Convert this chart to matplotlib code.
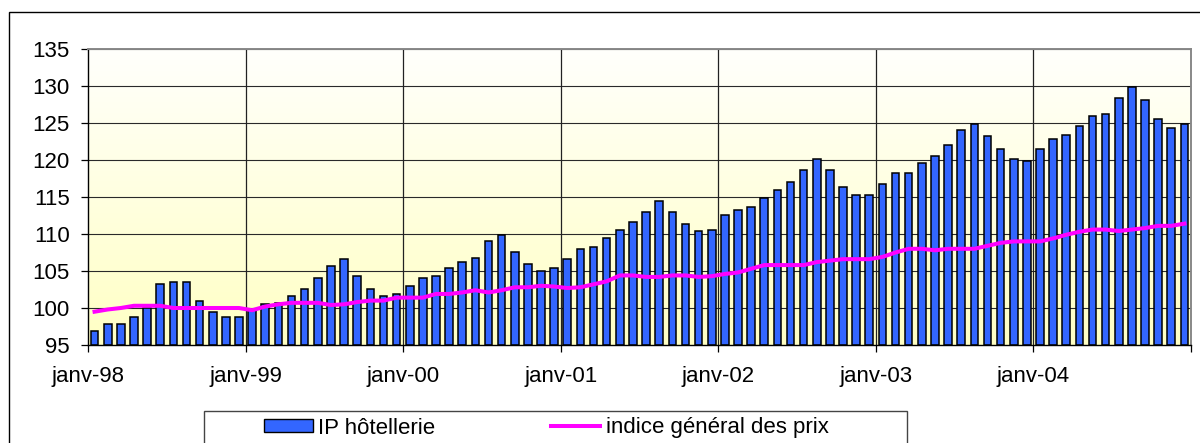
import matplotlib
matplotlib.use("Agg")
import matplotlib.pyplot as plt
import numpy as np
from matplotlib.patches import Rectangle, Patch
from matplotlib.lines import Line2D

plt.rcParams['font.family'] = ['Liberation Sans', 'DejaVu Sans']

# monthly values, janv-98 .. dec-04
hotel = [96.9, 97.8, 97.8, 98.8, 100.0, 103.3, 103.5, 103.5, 100.9, 99.5, 98.8, 98.8,
         99.7, 100.5, 100.7, 101.6, 102.6, 104.0, 105.7, 106.6, 104.3, 102.6, 101.6, 101.9,
         103.0, 104.0, 104.3, 105.4, 106.2, 106.8, 109.0, 109.9, 107.6, 105.9, 105.0, 105.4,
         106.6, 108.0, 108.3, 109.4, 110.6, 111.6, 113.0, 114.4, 113.0, 111.3, 110.4, 110.6,
         112.5, 113.2, 113.7, 114.9, 116.0, 117.0, 118.7, 120.1, 118.7, 116.3, 115.3, 115.3,
         116.8, 118.2, 118.2, 119.6, 120.6, 122.0, 124.1, 124.8, 123.2, 121.5, 120.1, 119.9,
         121.5, 122.9, 123.4, 124.6, 126.0, 126.2, 128.4, 129.8, 128.1, 125.5, 124.3, 124.8]

cpi = [99.5, 99.8, 100.0, 100.3, 100.3, 100.3, 100.0, 100.0, 100.0, 100.0, 100.0, 100.0,
       99.7, 100.2, 100.5, 100.7, 100.7, 100.7, 100.4, 100.5, 100.8, 101.0, 101.0, 101.4,
       101.4, 101.4, 101.9, 101.9, 102.1, 102.4, 102.1, 102.4, 102.8, 102.8, 103.0, 102.9,
       102.7, 102.8, 103.2, 103.6, 104.4, 104.4, 104.2, 104.2, 104.4, 104.4, 104.2, 104.3,
       104.6, 104.8, 105.3, 105.8, 105.8, 105.8, 105.8, 106.2, 106.4, 106.6, 106.6, 106.6,
       106.9, 107.5, 108.0, 108.0, 107.8, 108.0, 108.0, 108.0, 108.4, 108.8, 109.0, 109.0,
       109.0, 109.4, 109.9, 110.3, 110.6, 110.6, 110.4, 110.6, 110.8, 111.1, 111.1, 111.4]

year_labels = ['janv-98', 'janv-99', 'janv-00', 'janv-01', 'janv-02', 'janv-03', 'janv-04', '']
y_ticks = [95, 100, 105, 110, 115, 120, 125, 130, 135]

W, H = 1200, 443
fig = plt.figure(figsize=(W / 100, H / 100), dpi=100)
ax = fig.add_axes([88 / W, 1 - 345 / H, (1191 - 88) / W, (345 - 49) / H])

n = len(hotel)
x = np.arange(n) + 0.5

# gradient background, white on top to pale yellow at the bottom
grad = np.linspace(0, 1, 256).reshape(-1, 1)
top = np.array([255, 255, 252]) / 255
bot = np.array([255, 255, 196]) / 255
img = top + (bot - top) * grad[:, :, None] * np.ones((1, 1, 3))
ax.imshow(img, extent=[0, n, 95, 135], aspect='auto', zorder=0, origin='upper')

ax.set_xlim(0, n)
ax.set_ylim(95, 135)

for yv in y_ticks[1:]:
    ax.axhline(yv, color='#2a2a2a', lw=0.8, zorder=1)
for xv in range(12, n, 12):
    ax.axvline(xv, color='#222222', lw=0.9, zorder=1)

ax.bar(x, [h - 95 for h in hotel], bottom=95, width=0.58, color='#3366FF',
       edgecolor='black', linewidth=1.1, zorder=2)
ax.plot(x, cpi, color='#FF00FF', lw=2.9, zorder=3)

ax.set_yticks(y_ticks)
ax.set_xticks(range(0, n + 1, 12))
ax.set_xticklabels(year_labels)
ax.tick_params(axis='y', length=5, width=0.9, pad=8, labelsize=16)
ax.tick_params(axis='x', length=5, width=0.9, pad=10, labelsize=16)

for s in ['left', 'bottom']:
    ax.spines[s].set_color('black')
    ax.spines[s].set_linewidth(1.0)
for s in ['top', 'right']:
    ax.spines[s].set_color('#888888')
    ax.spines[s].set_linewidth(1.4)

# outer chart border
fig.patches.append(Rectangle((9 / W, -0.1), 1.2, 1 - 12 / H + 0.1, transform=fig.transFigure,
                             fill=False, edgecolor='black', lw=1.0))

# legend box
fig.patches.append(Rectangle((204 / W, -0.1), 703 / W, 1 - 411 / H + 0.1, transform=fig.transFigure,
                             fill=False, edgecolor='#444444', lw=1.0))
handles = [Patch(facecolor='#3366FF', edgecolor='black', lw=1.0),
           Line2D([0], [0], color='#FF00FF', lw=2.9)]
fig.legend(handles, ['IP hôtellerie', 'indice général des prix'], ncol=2, frameon=False,
           loc='center left', bbox_to_anchor=(264 / W, 1 - 428 / H), borderaxespad=0,
           borderpad=0, fontsize=16, handlelength=2.2, handleheight=0.55,
           handletextpad=0.25, columnspacing=5.2)

fig.savefig('out.png', dpi=100)
